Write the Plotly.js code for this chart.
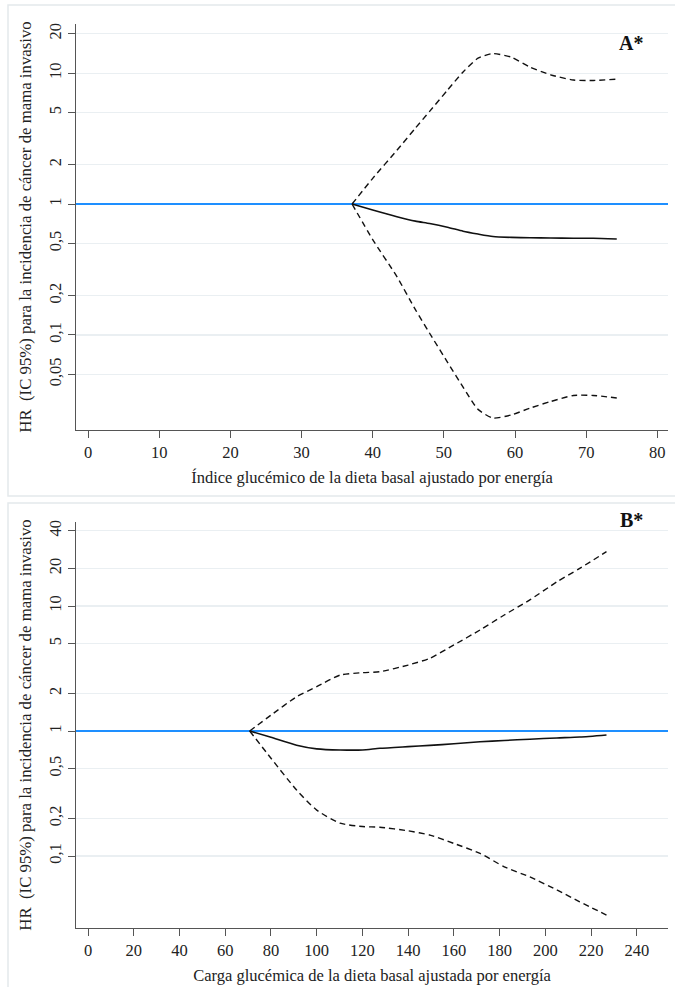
<!DOCTYPE html>
<html>
<head>
<meta charset="utf-8">
<script src="https://cdn.plot.ly/plotly-3.0.1.min.js"></script>
<style>html,body{margin:0;padding:0;background:#fff;}#chart{width:675px;height:987px;}</style>
</head>
<body>
<div id="chart"></div>
<script>
// Panel A: índice glucémico
var xA      = [37.1, 40, 43.4, 46, 48.0, 50.5, 52.7, 54.8, 56.9, 59.5, 62.1, 65, 68.2, 71, 74.3];
var hrA     = [1, 0.90, 0.80, 0.74, 0.71, 0.665, 0.62, 0.59, 0.565, 0.556, 0.552, 0.55, 0.548, 0.547, 0.54];
var upperA  = [1, 1.57, 2.57, 3.8, 5.1, 7.4, 10.2, 13.0, 14.1, 13.2, 11.1, 9.7, 8.85, 8.78, 9.0];
var lowerA  = [1, 0.535, 0.279, 0.156, 0.103, 0.062, 0.040, 0.027, 0.0232, 0.0245, 0.0276, 0.031, 0.0345, 0.0345, 0.033];
var yTickValsA = [0.05, 0.1, 0.2, 0.5, 1, 2, 5, 10, 20];
var yTickTextA = ["0,05", "0,1", "0,2", "0,5", "1", "2", "5", "10", "20"];
var xTickValsA = [0, 10, 20, 30, 40, 50, 60, 70, 80];
var xRangeA = [-1.7, 81.5];

// Panel B: carga glucémica
var xB      = [70.7, 80, 91.2, 100, 110.2, 120, 127.6, 140, 149.5, 160, 171.4, 182, 193.2, 205, 215, 226.7];
var hrB     = [1, 0.89, 0.77, 0.72, 0.705, 0.705, 0.727, 0.75, 0.768, 0.79, 0.82, 0.84, 0.86, 0.88, 0.895, 0.93];
var upperB  = [1, 1.34, 1.88, 2.26, 2.8, 2.93, 2.98, 3.37, 3.82, 4.88, 6.43, 8.47, 11.2, 15.6, 20.0, 27.2];
var lowerB  = [1, 0.606, 0.337, 0.233, 0.183, 0.172, 0.17, 0.159, 0.147, 0.126, 0.105, 0.082, 0.068, 0.0535, 0.043, 0.0337];
var yTickValsB = [0.1, 0.2, 0.5, 1, 2, 5, 10, 20, 40];
var yTickTextB = ["0,1", "0,2", "0,5", "1", "2", "5", "10", "20", "40"];
var xTickValsB = [0, 20, 40, 60, 80, 100, 120, 140, 160, 180, 200, 220, 240];
var xRangeB = [-5.25, 253.6];

var refHR = [1, 1];
var titleX_A = "Índice glucémico de la dieta basal ajustado por energía";
var titleX_B = "Carga glucémica de la dieta basal ajustada por energía";
var titleY = "HR  (IC 95%) para la incidencia de cáncer de mama invasivo";

var FONT = "Liberation Serif, Times New Roman, serif";
var solid = {color: "#111", width: 1.6, shape: "spline", smoothing: 0.6};
var dashed = {color: "#111", width: 1.4, dash: "6px,4px", shape: "spline", smoothing: 0.6};
var ref = {color: "#1e8fff", width: 1.8};

var traces = [
  {x: xRangeA, y: refHR, mode: "lines", line: ref, xaxis: "x", yaxis: "y", showlegend: false, cliponaxis: true},
  {x: xA, y: upperA, mode: "lines", line: dashed, xaxis: "x", yaxis: "y", showlegend: false},
  {x: xA, y: hrA, mode: "lines", line: solid, xaxis: "x", yaxis: "y", showlegend: false},
  {x: xA, y: lowerA, mode: "lines", line: dashed, xaxis: "x", yaxis: "y", showlegend: false},
  {x: xRangeB, y: refHR, mode: "lines", line: ref, xaxis: "x2", yaxis: "y2", showlegend: false, cliponaxis: true},
  {x: xB, y: upperB, mode: "lines", line: dashed, xaxis: "x2", yaxis: "y2", showlegend: false},
  {x: xB, y: hrB, mode: "lines", line: solid, xaxis: "x2", yaxis: "y2", showlegend: false},
  {x: xB, y: lowerB, mode: "lines", line: dashed, xaxis: "x2", yaxis: "y2", showlegend: false}
];

function xax(vals, range, title, anchor) {
  return {
    domain: [0, 1], anchor: anchor, range: range,
    tickmode: "array", tickvals: vals, ticktext: vals.map(String),
    ticks: "outside", ticklen: 7, tickcolor: "#555", tickwidth: 1,
    showline: true, linecolor: "#555", linewidth: 1,
    showgrid: false, zeroline: false,
    tickfont: {family: FONT, size: 16.5, color: "#222"},
    title: {text: title, font: {family: FONT, size: 16.5, color: "#222"}, standoff: 10}
  };
}
function yax(vals, text, range, domain, anchor) {
  return {
    type: "log", domain: domain, anchor: anchor, range: range,
    tickmode: "array", tickvals: vals, ticktext: text, tickangle: -90,
    ticks: "outside", ticklen: 7, tickcolor: "#555", tickwidth: 1,
    showline: true, linecolor: "#555", linewidth: 1,
    showgrid: true, gridcolor: "#eaeff2", gridwidth: 1.2, zeroline: false,
    tickfont: {family: FONT, size: 16.5, color: "#222"},
    title: {text: titleY, font: {family: FONT, size: 16.8, color: "#222"}, standoff: 10}
  };
}

var layout = {
  width: 675, height: 987,
  margin: {l: 76, r: 7, t: 24, b: 59},
  paper_bgcolor: "#fff", plot_bgcolor: "#fff",
  showlegend: false,
  xaxis: xax(xTickValsA, xRangeA, titleX_A, "y"),
  yaxis: yax(yTickValsA, yTickTextA, [-1.726, 1.375], [0.5509, 1], "x"),
  xaxis2: xax(xTickValsB, xRangeB, titleX_B, "y2"),
  yaxis2: yax(yTickValsB, yTickTextB, [-1.576, 1.672], [0, 0.4491], "x2"),
  shapes: [
    {type: "rect", xref: "paper", yref: "paper", x0: -68/592, x1: 1.05, y0: (928 - 496) / 904, y1: (928 - 5) / 904,
     line: {color: "#e4e9ec", width: 1.5}, layer: "below"},
    {type: "rect", xref: "paper", yref: "paper", x0: -68/592, x1: 1.05, y0: (928 - 1000) / 904, y1: (928 - 503) / 904,
     line: {color: "#e4e9ec", width: 1.5}, layer: "below"}
  ],
  annotations: [
    {text: "<b>A*</b>", xref: "paper", yref: "paper", x: (645 - 76) / 592, y: (928 - 30) / 904,
     showarrow: false, font: {family: FONT, size: 20, color: "#111"}},
    {text: "<b>B*</b>", xref: "paper", yref: "paper", x: (645 - 76) / 592, y: (928 - 520) / 904,
     showarrow: false, font: {family: FONT, size: 20, color: "#111"}}
  ]
};

Plotly.newPlot("chart", traces, layout, {displayModeBar: false, staticPlot: true});
</script>
</body>
</html>
